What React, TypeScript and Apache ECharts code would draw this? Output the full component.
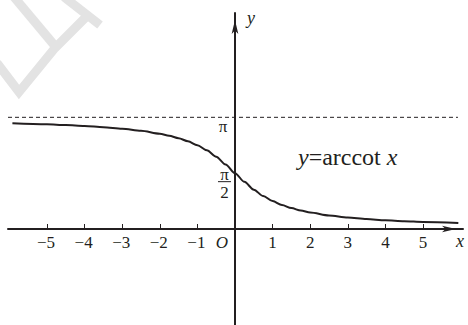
import React, { useEffect, useRef } from 'react';
import * as echarts from 'echarts';

// ---- data ----
const curveX = [-5.92, -5, -4.5, -4, -3.5, -3, -2.5, -2, -1.75, -1.5, -1.25, -1, -0.75, -0.5, -0.25, 0,
  0.25, 0.5, 0.75, 1, 1.25, 1.5, 1.75, 2, 2.5, 3, 3.5, 4, 4.5, 5, 5.94];
const curveY = [2.974, 2.944, 2.923, 2.897, 2.863, 2.820, 2.761, 2.678, 2.623, 2.554, 2.467, 2.356, 2.214, 2.034, 1.816, 1.571,
  1.326, 1.107, 0.927, 0.785, 0.675, 0.588, 0.519, 0.464, 0.381, 0.322, 0.278, 0.245, 0.219, 0.197, 0.167];
const asymptoteX = [-6.037, 5.93];
const asymptoteY = [Math.PI, Math.PI];
const xTickValues = [-5, -4, -3, -2, -1, 1, 2, 3, 4, 5];
const xTickLabels = ['−5', '−4', '−3', '−2', '−1', '1', '2', '3', '4', '5'];
const yMarkPi = Math.PI;
const yMarkHalfPi = Math.PI / 2;
const X_MIN = -6.037;
const X_MAX = 6.064;
const Y_MIN = -2.7004;
const Y_MAX = 6.0759;

const INK = '#231f20';
const SERIF = 'Liberation Serif';
const WM = '#e3e3e3';

export default function App() {
  const ref = useRef<HTMLDivElement>(null);
  useEffect(() => {
    document.body.style.margin = '0';
    const chart = echarts.init(ref.current!, null, { renderer: 'svg' });
    chart.setOption({
      animation: false,
      backgroundColor: '#ffffff',
      grid: { left: 8, right: 5, top: 13, bottom: 0, containLabel: false, outerBoundsMode: 'none' },
      xAxis: {
        type: 'value', min: X_MIN, max: X_MAX,
        axisLine: {
          onZero: true, lineStyle: { color: INK, width: 2 },
          symbol: ['none', 'arrow'], symbolSize: [5, 14], symbolOffset: [0, -7],
        },
        axisTick: { customValues: xTickValues, inside: true, length: 5, lineStyle: { color: INK, width: 1 } },
        axisLabel: { show: false },
        splitLine: { show: false },
      },
      yAxis: {
        type: 'value', min: Y_MIN, max: Y_MAX,
        axisLine: {
          onZero: true, lineStyle: { color: INK, width: 2 },
          symbol: ['none', 'arrow'], symbolSize: [5, 14], symbolOffset: [0, -7],
        },
        axisTick: { show: false },
        axisLabel: { show: false },
        splitLine: { show: false },
      },
      series: [
        {
          type: 'line', name: 'asymptote', showSymbol: false, silent: true,
          data: asymptoteX.map((x, i) => [x, asymptoteY[i]]),
          lineStyle: { color: INK, width: 1, type: [4, 3] },
        },
        {
          type: 'line', name: 'arccot', showSymbol: false, smooth: 0.3, smoothMonotone: 'x',
          data: curveX.map((x, i) => [x, curveY[i]]),
          lineStyle: { color: INK, width: 2 },
        },
      ],
    });

    const p = (x: number, y: number) => chart.convertToPixel({ gridIndex: 0 }, [x, y]) as number[];
    const o = p(0, 0);
    const piP = p(0, yMarkPi);
    const halfP = p(0, yMarkHalfPi);
    const xEnd = p(X_MAX, 0);
    const yEnd = p(0, Y_MAX);
    const txt = (text: string, x: number, y: number, italic: boolean, size = 17, align = 'center') => ({
      type: 'text', x, y, z: 10,
      style: {
        text, fill: INK, fontFamily: SERIF, fontSize: size, fontStyle: italic ? 'italic' : 'normal',
        align, verticalAlign: 'middle',
      },
    });

    const tickLabels = xTickValues.map((v, i) => {
      const pt = p(v, 0);
      return txt(xTickLabels[i], pt[0] - (v < 0 ? 1 : 0), o[1] + 13, false);
    });

    chart.setOption({
      graphic: [
        { type: 'polyline', z: 0, shape: { points: [[14, -3], [55, 46]] }, style: { stroke: WM, lineWidth: 9, fill: 'none' } },
        { type: 'polyline', z: 0, shape: { points: [[-3, 63], [19, 92], [55, 48], [88, 15]] }, style: { stroke: WM, lineWidth: 9, fill: 'none' } },
        { type: 'polyline', z: 0, shape: { points: [[64, -3], [100, 25]] }, style: { stroke: WM, lineWidth: 9, fill: 'none' } },
        ...tickLabels,
        txt('O', o[0] - 13, o[1] + 13, true),
        txt('x', xEnd[0] - 3, o[1] + 12, true, 18),
        txt('y', o[0] + 16, yEnd[1] + 5, true, 18),
        txt('π', o[0] - 12, piP[1] + 9, false),
        txt('π', o[0] - 10.5, halfP[1] + 1, false),
        { type: 'line', z: 10, shape: { x1: o[0] - 17, y1: halfP[1] + 8.5, x2: o[0] - 4, y2: halfP[1] + 8.5 }, style: { stroke: INK, lineWidth: 1 } },
        txt('2', o[0] - 10.5, halfP[1] + 19.3, false),
        {
          type: 'text', x: o[0] + 63, y: o[1] - 72, z: 10,
          style: {
            text: '{i|y}=arccot {i|x}', fill: INK, fontFamily: SERIF, fontSize: 24,
            align: 'left', verticalAlign: 'middle',
            rich: { i: { fontFamily: SERIF, fontSize: 24, fontStyle: 'italic', fill: INK } },
          },
        },
      ],
    });
    return () => chart.dispose();
  }, []);
  return <div ref={ref} style={{ position: 'absolute', left: 0, top: 0, width: 468, height: 325 }} />;
}
